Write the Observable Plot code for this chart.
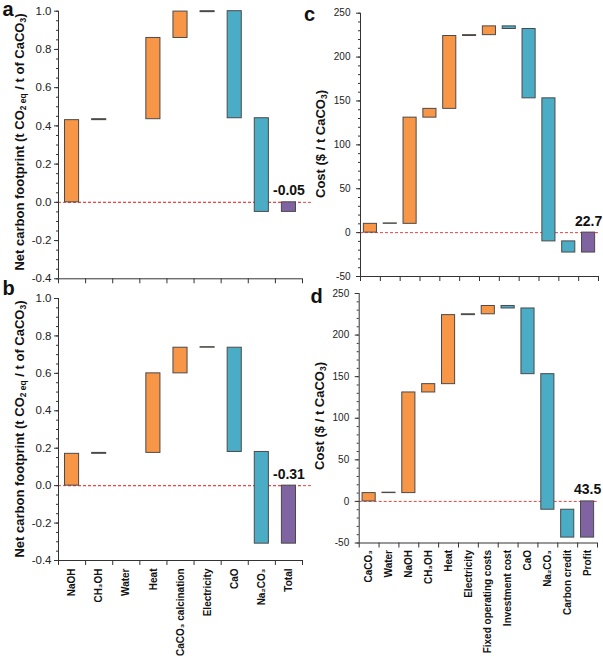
<!DOCTYPE html>
<html><head><meta charset="utf-8">
<script src="https://cdn.jsdelivr.net/npm/d3@7"></script>
<script src="https://cdn.jsdelivr.net/npm/@observablehq/plot@0.6"></script>
<style>
body{margin:0;background:#fff;font-family:"Liberation Sans",Arial,sans-serif;}
#wrap{position:relative;width:603px;height:664px;overflow:hidden;background:#fff;}
.panel{position:absolute;}
.ylab{position:absolute;transform:translate(-50%,-50%) rotate(-90deg);white-space:nowrap;font-weight:bold;font-size:13px;color:#111;line-height:1;}
.letter{position:absolute;font-weight:bold;font-size:20px;line-height:10px;color:#111;}
sub{font-size:0.65em;vertical-align:-0.25em;line-height:0;}
</style></head><body><div id="wrap"></div>
<script>
// ---- Data ----
const footCats = ["NaOH", "CH₃OH", "Water", "Heat", "CaCO₃ calcination", "Electricity", "CaO", "Na₂CO₃", "Total"];
const footKinds = ["up", "up", "up", "up", "up", "up", "down", "down", "total"];
const footA_from = [0, 0.43, null, 0.435, 0.86, 0.995, 1.0, 0.44, 0];
const footA_to   = [0.43, 0.435, null, 0.86, 0.998, 1.0, 0.44, -0.05, -0.05];
const footB_from = [0, 0.17, null, 0.175, 0.60, 0.737, 0.737, 0.18, 0];
const footB_to   = [0.17, 0.175, null, 0.60, 0.737, 0.74, 0.18, -0.31, -0.31];
const footTicks = [-0.4, -0.2, 0, 0.2, 0.4, 0.6, 0.8, 1.0];
const footMinor = [-0.4, -0.35, -0.3, -0.25, -0.2, -0.15, -0.1, -0.05, 0, 0.05, 0.1, 0.15, 0.2, 0.25, 0.3, 0.35, 0.4, 0.45, 0.5, 0.55, 0.6, 0.65, 0.7, 0.75, 0.8, 0.85, 0.9, 0.95, 1.0];

const costCats = ["CaCO₃", "Water", "NaOH", "CH₃OH", "Heat", "Electricity", "Fixed operating costs", "Investment cost", "CaO", "Na₂CO₃", "Carbon credit", "Profit"];
const costKinds = ["up", "up", "up", "up", "up", "up", "up", "down", "down", "down", "down", "total"];
const costC_from = [0, 10, 10, 131, 141, 224, 225, 235, 232, 153, -10, 0];
const costC_to   = [10, 10.5, 131, 141, 224, 225, 235, 232, 153, -10, -22.7, -22.7];
const costD_from = [0, 10, 10, 131, 141, 224, 225, 235, 232, 153, -10, 0];
const costD_to   = [10, 10.5, 131, 141, 224, 225, 235, 232, 153, -10, -43.5, -43.5];
const costTicks = [-50, 0, 50, 100, 150, 200, 250];
const costMinor = [-50, -40, -30, -20, -10, 0, 10, 20, 30, 40, 50, 60, 70, 80, 90, 100, 110, 120, 130, 140, 150, 160, 170, 180, 190, 200, 210, 220, 230, 240, 250];

const totalLabels = ["-0.05", "-0.31", "22.7", "43.5"];

const kindColor = {up: "#F79646", down: "#4BACC6", total: "#8064A2"};

function waterfall(cfg) {
  const n = cfg.cats.length;
  const rows = cfg.cats.map((c, i) => ({i, cat: c, kind: cfg.kinds[i], from: cfg.from[i], to: cfg.to[i]}))
    .filter(d => d.from != null && d.to != null);
  const half = cfg.half;
  const marks = [
    Plot.ruleY([0], {stroke: "#ee4444", strokeDasharray: "3,2", strokeWidth: 1}),
  ];
  if (cfg.extend) marks.push(Plot.ruleY([0], {stroke: "#ee4444", strokeDasharray: "3,2", strokeWidth: 1, dx: cfg.extend}));
  for (const k of ["up", "down", "total"]) {
    marks.push(Plot.rectY(rows.filter(d => d.kind === k), {
      x1: d => d.i + 0.5 - half, x2: d => d.i + 0.5 + half,
      y1: "from", y2: "to", fill: kindColor[k], stroke: "#4a4a4a", strokeWidth: 1
    }));
  }
  marks.push(
    Plot.ruleX([0], {stroke: "#333"}),
    Plot.ruleY([cfg.yDomain[0]], {stroke: "#333"}),
    Plot.axisY(cfg.minor, {tickSize: 2, tickFormat: () => "", stroke: "#333", label: null}),
    Plot.axisY(cfg.ticks, {tickSize: 4, tickPadding: cfg.tickPad, tickFormat: cfg.fmt, fontSize: cfg.fontSize, stroke: "#333", fill: "#222", label: null}),
    Plot.axisX(d3.range(n + 1), {tickSize: 5, tickFormat: () => "", stroke: "#333", label: null}),
    Plot.text([cfg.total], {x: n - 0.5, y: 0, dy: -7, text: d => d, fontWeight: "bold", fontSize: 14, lineAnchor: "bottom", fill: "#111"})
  );
  if (cfg.showLabels) {
    marks.push(Plot.axisX(d3.range(n).map(i => i + 0.5), {
      tickSize: 0, tickPadding: cfg.labelPad, tickRotate: -90,
      tickFormat: v => cfg.cats[Math.floor(v)], fontSize: 10, fontWeight: "bold", fill: "#111", label: null
    }));
  }
  const svg = Plot.plot({
    width: cfg.width, height: cfg.height,
    marginLeft: cfg.m[0], marginRight: cfg.m[1], marginTop: cfg.m[2], marginBottom: cfg.m[3],
    x: {type: "linear", domain: [0, n]},
    y: {domain: cfg.yDomain},
    style: {background: "transparent", fontFamily: "Liberation Sans, Arial, sans-serif", overflow: "visible"},
    marks
  });
  svg.classList.add("panel");
  svg.style.left = cfg.left + "px";
  svg.style.top = cfg.top + "px";
  svg.style.position = "absolute";
  return svg;
}

const wrap = document.getElementById("wrap");
const fmt1 = d => d.toFixed(1);
const fmt0 = d => String(d);

wrap.appendChild(waterfall({cats: footCats, kinds: footKinds, from: footA_from, to: footA_to, total: totalLabels[0],
  yDomain: [-0.4, 1.0], ticks: footTicks, minor: footMinor, fmt: fmt1, fontSize: 11.5, tickPad: 3,
  left: 0, top: 0, width: 310, height: 292, m: [58, 8, 10.7, 13.7], half: 0.26, extend: 10, showLabels: false}));
wrap.appendChild(waterfall({cats: footCats, kinds: footKinds, from: footB_from, to: footB_to, total: totalLabels[1],
  yDomain: [-0.4, 1.0], ticks: footTicks, minor: footMinor, fmt: fmt1, fontSize: 11.5, tickPad: 3,
  left: 0, top: 285, width: 310, height: 379, m: [58, 8, 13, 104], half: 0.26, extend: 10, showLabels: true, labelPad: 8}));
wrap.appendChild(waterfall({cats: costCats, kinds: costKinds, from: costC_from, to: costC_to, total: totalLabels[2],
  yDomain: [-50, 250], ticks: costTicks, minor: costMinor, fmt: fmt0, fontSize: 10, tickPad: 6,
  left: 300, top: 0, width: 303, height: 292, m: [60, 5, 12.7, 16], half: 0.33, extend: 0, showLabels: false}));
wrap.appendChild(waterfall({cats: costCats, kinds: costKinds, from: costD_from, to: costD_to, total: totalLabels[3],
  yDomain: [-50, 250], ticks: costTicks, minor: costMinor, fmt: fmt0, fontSize: 10, tickPad: 6,
  left: 300, top: 283, width: 303, height: 381, m: [58.7, 6, 10, 121.5], half: 0.33, extend: 0, showLabels: true, labelPad: 7}));

// Axis titles and panel letters
const footTitle = 'Net carbon footprint (t CO<sub>2 eq</sub> / t of CaCO<sub>3</sub>)';
const costTitle = 'Cost ($ / t CaCO<sub>3</sub>)';
const overlays = [
  ["ylab", footTitle, 19, 142], ["ylab", footTitle, 19, 429],
  ["ylab", costTitle, 320, 144], ["ylab", costTitle, 319, 416],
  ["letter", "a", 2.5, 3.5], ["letter", "b", 2.5, 283], ["letter", "c", 304, 8.6], ["letter", "d", 310.5, 291]
];
for (const [cls, html, x, y] of overlays) {
  const el = document.createElement("div");
  el.className = cls;
  el.innerHTML = html;
  el.style.left = x + "px";
  el.style.top = y + "px";
  wrap.appendChild(el);
}
</script>
</body></html>
